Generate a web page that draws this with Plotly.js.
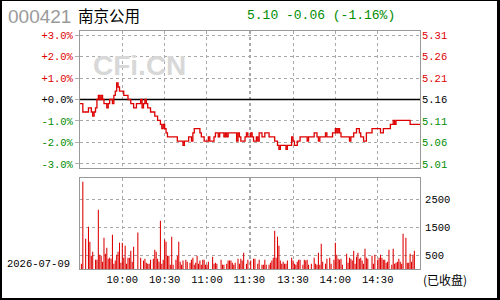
<!DOCTYPE html>
<html><head><meta charset="utf-8">
<script src="https://cdn.plot.ly/plotly-3.0.1.min.js"></script>
<style>
body{margin:0;background:#fff}
#wrap{position:relative;width:500px;height:300px}
#frame{position:absolute;left:0;top:0;width:500px;height:300px;box-sizing:border-box;border-style:solid;border-color:#000;border-width:1px 3px 2px 2px;pointer-events:none}
</style>
</head><body>
<div id="wrap"><div id="chart" style="width:500px;height:300px"></div><div id="frame"></div></div>
<script>
// ---- data ----
const stockCode = "000421";
const stockName = "南京公用";
const quoteText = "5.10 -0.06 (-1.16%)";
const dateText = "2026-07-09";
const statusText = "(已收盘)";
const watermark = "CFi.CN";
const prevClose = 5.16;

const pctLevels = [3, 2, 1, 0, -1, -2, -3];
const pctLabels = ["+3.0%", "+2.0%", "+1.0%", "+0.0%", "-1.0%", "-2.0%", "-3.0%"];
const priceLabels = ["5.31", "5.26", "5.21", "5.16", "5.11", "5.06", "5.01"];

const timeTicks = ["10:00", "10:30", "11:00", "11:30", "13:00", "13:30", "14:00", "14:30"];
const timeTickLabels = ["10:00", "10:30", "11:00", "11:30", "", "13:30", "14:00", "14:30"];

const volTicks = [500, 1500, 2500];
const volTickLabels = ["500", "1500", "2500"];

// minute categories 09:30-11:30, 13:00-15:00
const times = [];
const fmt = m => String(Math.floor(m / 60)).padStart(2, "0") + ":" + String(m % 60).padStart(2, "0");
for (let m = 9 * 60 + 30; m <= 11 * 60 + 30; m++) times.push(fmt(m));
for (let m = 13 * 60; m <= 15 * 60; m++) times.push(fmt(m));

const price = [
5.15,5.15,5.13,5.13,5.13,5.13,5.14,5.14,5.13,5.12,
5.13,5.14,5.16,5.17,5.16,5.17,5.16,5.15,5.15,5.14,
5.15,5.16,5.16,5.15,5.17,5.18,5.20,5.19,5.18,5.18,
5.18,5.17,5.17,5.17,5.16,5.16,5.15,5.15,5.14,5.14,
5.15,5.15,5.15,5.16,5.14,5.15,5.16,5.15,5.14,5.14,
5.13,5.13,5.13,5.12,5.12,5.11,5.11,5.10,5.09,5.10,
5.09,5.08,5.07,5.07,5.07,5.07,5.07,5.07,5.07,5.06,
5.06,5.06,5.06,5.05,5.06,5.06,5.06,5.07,5.07,5.06,
5.08,5.09,5.09,5.09,5.09,5.08,5.07,5.07,5.06,5.06,
5.06,5.07,5.06,5.06,5.06,5.07,5.08,5.08,5.07,5.08,
5.08,5.08,5.07,5.08,5.07,5.08,5.08,5.08,5.08,5.08,
5.08,5.06,5.08,5.07,5.06,5.06,5.06,5.07,5.08,5.07,
5.07,
5.08,5.07,5.06,5.06,5.07,5.06,5.08,5.08,5.07,5.07,
5.08,5.08,5.08,5.07,5.07,5.07,5.07,5.06,5.06,5.05,
5.04,5.05,5.05,5.05,5.05,5.04,5.05,5.05,5.05,5.07,
5.06,5.05,5.05,5.06,5.06,5.07,5.07,5.07,5.07,5.07,
5.06,5.07,5.07,5.07,5.07,5.08,5.08,5.07,5.06,5.07,
5.07,5.07,5.07,5.08,5.07,5.07,5.07,5.07,5.08,5.08,
5.09,5.08,5.09,5.08,5.07,5.07,5.07,5.07,5.07,5.07,
5.06,5.07,5.07,5.08,5.08,5.09,5.09,5.08,5.07,5.07,
5.06,5.06,5.08,5.08,5.08,5.08,5.09,5.09,5.09,5.09,
5.09,5.09,5.08,5.08,5.09,5.09,5.09,5.09,5.09,5.10,
5.10,5.11,5.10,5.11,5.11,5.11,5.11,5.11,5.11,5.11,
5.11,5.11,5.11,5.10,5.10,5.10,5.10,5.10,5.10,5.10,5.10
];

const volume = [
0,190,3120,0,1080,0,1510,975,475,620,
0,333,333,2120,510,475,260,1120,547,760,
370,405,370,1225,190,300,510,620,940,226,
940,405,833,190,405,405,655,260,797,0,
0,1300,0,405,0,300,370,226,190,190,
333,0,370,690,620,370,260,1725,190,333,
1050,975,475,475,155,1155,155,0,333,475,
975,260,155,300,0,333,260,0,226,333,
405,155,226,475,190,300,155,333,333,155,
155,260,0,0,440,190,226,190,0,0,
333,155,155,0,190,300,300,300,226,155,
226,0,370,190,370,300,583,0,190,333,
0,
300,0,370,370,0,190,333,0,155,155,
333,155,0,155,226,300,405,1370,405,1155,
833,300,190,260,190,190,300,0,0,405,
300,190,155,260,333,333,0,155,333,300,
333,155,0,190,0,405,190,155,583,155,
904,260,0,190,370,0,405,190,0,333,
940,510,370,333,370,155,0,0,547,226,
405,370,300,655,190,440,583,370,405,300,
190,726,405,370,0,0,475,190,510,0,
333,405,510,405,333,333,226,260,690,0,
155,726,190,226,260,370,260,190,1260,0,
1120,226,226,547,260,510,655,0,0,0,0
];

// ---- styling ----
const RED = "#dd0000", GREEN = "#008c00", BLACK = "#000000";
const colorFor = k => k > 0 ? RED : (k < 0 ? GREEN : BLACK);
const span = (t, c) => '<span style="color:' + c + '">' + t + '</span>';
const MONO = "Liberation Mono, DejaVu Sans Mono, monospace";
const CJK = "Noto Sans CJK SC, sans-serif";

const halfPct = 3.19;
const pRange = [prevClose * (1 - halfPct / 100), prevClose * (1 + halfPct / 100)];
const pTickVals = pctLevels.map(k => prevClose * (1 + k / 100));

const L = 80, R = 80, T = 31, B = 31, PW = 500 - L - R, PH = 300 - T - B;
const px = x => (x - L) / PW;
const py = y => (300 - B - y) / PH;

const gridStyle = {showgrid: true, gridcolor: "#a8a8a8", griddash: "dot", gridwidth: 1};
const frameStyle = {showline: true, linecolor: "#999999", linewidth: 1, mirror: true, zeroline: false};

const traces = [
  // previous-close reference line (drawn above grid, below price)
  {x: times, y: times.map(() => prevClose), type: "scatter", mode: "lines",
   line: {color: BLACK, width: 1.5}, xaxis: "x", yaxis: "y", hoverinfo: "skip"},
  {x: times, y: price, type: "scatter", mode: "lines", line: {color: RED, width: 1.3, shape: "hv"},
   xaxis: "x", yaxis: "y2", hoverinfo: "skip"},
  {x: times, y: volume, type: "bar", marker: {color: RED, line: {width: 0}},
   xaxis: "x2", yaxis: "y3", hoverinfo: "skip"}
];

const xCommon = Object.assign({type: "category", categoryorder: "array", categoryarray: times,
  range: [0, times.length - 1], tickmode: "array",
  tickvals: timeTicks, ticktext: timeTickLabels, ticks: "", fixedrange: true}, gridStyle, frameStyle);

const layout = {
  width: 500, height: 300,
  margin: {l: L, r: R, t: T, b: B, pad: 0},
  paper_bgcolor: "#ffffff", plot_bgcolor: "#ffffff",
  showlegend: false, bargap: 0.25,
  font: {family: MONO, size: 10, color: BLACK},
  xaxis: Object.assign({}, xCommon, {anchor: "y", domain: [0, 1], showticklabels: false}),
  xaxis2: Object.assign({}, xCommon, {anchor: "y3", domain: [0, 1], showticklabels: true,
    tickfont: {family: MONO, size: 10.5, color: BLACK}}),
  yaxis: Object.assign({domain: [py(168), 1], anchor: "x", range: pRange, tickmode: "array",
    tickvals: pTickVals, ticktext: pctLabels.map((t, i) => span(t, colorFor(pctLevels[i]))),
    ticks: "outside", ticklen: 4, tickcolor: "#b0b0b0", side: "left",
    tickfont: {family: MONO, size: 10.5}}, gridStyle, frameStyle),
  yaxis2: {overlaying: "y", anchor: "x", side: "right", range: pRange, tickmode: "array",
    tickvals: pTickVals, ticktext: priceLabels.map((t, i) => span(t, colorFor(pctLevels[i]))),
    showgrid: false, zeroline: false, showline: false, ticks: "", ticklabelstandoff: 1,
    tickfont: {family: MONO, size: 10.5}},
  yaxis3: Object.assign({domain: [0, py(178)], anchor: "x2", side: "right", range: [0, 3250],
    tickmode: "array", tickvals: volTicks, ticktext: volTickLabels, ticks: "", ticklabelstandoff: 2,
    tickfont: {family: MONO, size: 10.5, color: BLACK}}, gridStyle, frameStyle),
  annotations: [
    {text: stockCode, xref: "paper", yref: "paper", x: px(6), y: py(16.5), xanchor: "left", yanchor: "middle",
     showarrow: false, font: {family: "Liberation Sans, Arial, sans-serif", size: 19, color: "#9a9a9a"}},
    {text: stockName, xref: "paper", yref: "paper", x: px(76), y: py(15), xanchor: "left", yanchor: "middle",
     showarrow: false, font: {family: CJK, size: 15.5, color: BLACK}},
    {text: quoteText, xref: "paper", yref: "paper", x: px(245), y: py(15.5), xanchor: "left", yanchor: "middle",
     showarrow: false, font: {family: MONO, size: 13, color: GREEN}},
    {text: watermark, xref: "paper", yref: "paper", x: px(139), y: py(65), xanchor: "center", yanchor: "middle",
     showarrow: false, font: {family: "Liberation Sans, Arial, sans-serif", size: 28, color: "#d8d8d8", weight: "bold"}},
    {text: dateText, xref: "paper", yref: "paper", x: px(5), y: py(263.5), xanchor: "left", yanchor: "middle",
     showarrow: false, font: {family: MONO, size: 10.5, color: BLACK}},
    {text: statusText, xref: "paper", yref: "paper", x: px(421), y: py(279), xanchor: "left", yanchor: "middle",
     showarrow: false, font: {family: CJK, size: 12, color: BLACK}}
  ]
};

Plotly.newPlot("chart", traces, layout, {staticPlot: true, displayModeBar: false});
</script>
</body></html>
